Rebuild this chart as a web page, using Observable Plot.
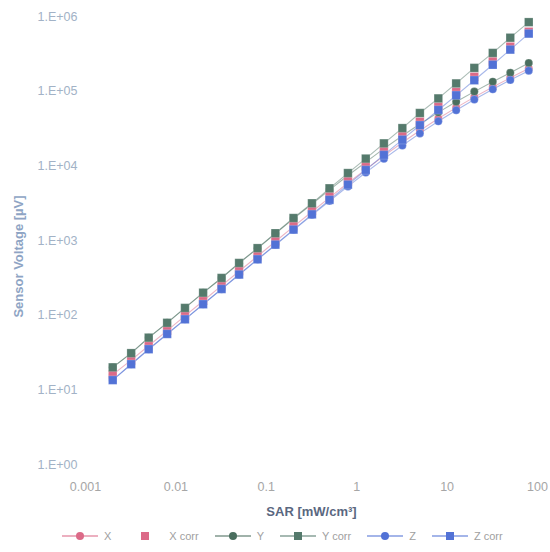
<!DOCTYPE html>
<html>
<head>
<meta charset="utf-8">
<script src="https://cdn.jsdelivr.net/npm/d3@7"></script>
<script src="https://cdn.jsdelivr.net/npm/@observablehq/plot@0.6"></script>
<style>
  html, body { margin: 0; padding: 0; background: #ffffff; }
  body { width: 550px; height: 552px; overflow: hidden; font-family: "Liberation Sans", Arial, sans-serif; }
  #legend { display: flex; align-items: center; justify-content: flex-start; padding-left: 62px; height: 24px; margin-top: 2px;
            font-size: 11px; color: #a0a0a0; }
  .item { display: flex; align-items: center; margin-right: 16px; }
  .item svg { margin-right: 6px; }
</style>
</head>
<body>
<div id="chart"></div>
<div id="legend"></div>
<script>
// SAR values [mW/cm³]
const sar = [0.002, 0.0032, 0.005, 0.008, 0.0126, 0.02, 0.032, 0.05, 0.08, 0.126,
             0.2, 0.32, 0.5, 0.8, 1.26, 2, 3.2, 5, 8, 12.6, 20, 32, 50, 80];
// Sensor voltages [µV]
const xRaw  = [16, 25, 39, 62, 98, 155, 249, 388, 616, 970, 1534, 2430, 3750, 5880,
               8980, 13600, 20500, 29700, 43000, 60200, 83200, 113600, 150800, 200600];
const xCorr = [16, 25, 39, 62, 98, 156, 250, 390, 620, 980, 1560, 2500, 3900, 6200,
               9800, 15600, 25000, 39000, 62000, 98000, 156000, 250000, 395000, 625000];
const yRaw  = [20, 31, 50, 79, 125, 199, 315, 497, 785, 1240, 1960, 3080, 4760, 7430,
               11200, 17000, 25300, 36300, 52000, 72000, 98600, 134000, 176000, 238000];
const yCorr = [20, 31, 50, 79, 125, 200, 315, 500, 790, 1250, 2000, 3150, 5000, 8000,
               12500, 20000, 32000, 51000, 80000, 127000, 205000, 325000, 520000, 840000];
const zRaw  = [13.5, 22, 35, 56, 88, 140, 223, 348, 555, 870, 1378, 2190, 3380, 5300,
               8130, 12400, 18700, 27200, 39500, 55600, 77200, 106000, 141000, 188000];
const zCorr = [13.5, 22, 35, 56, 88, 140, 224, 350, 560, 880, 1400, 2240, 3500, 5600,
               8800, 14000, 22400, 35000, 56000, 88000, 140000, 226000, 360000, 590000];

const xTicks = [0.001, 0.01, 0.1, 1, 10, 100];
const xTickLabels = ["0.001", "0.01", "0.1", "1", "10", "100"];
const yTicks = [1, 10, 100, 1000, 10000, 100000, 1000000];
const yTickLabels = ["1.E+00", "1.E+01", "1.E+02", "1.E+03", "1.E+04", "1.E+05", "1.E+06"];

const seriesNames = ["X", "X corr", "Y", "Y corr", "Z", "Z corr"];
const colX = "#dc6a88", colY = "#4a6e5e", colYc = "#557a6c", colZ = "#5272d6";

const series = [
  {name: "X",      vals: xRaw,  color: colX,  symbol: "circle", line: true},
  {name: "Y",      vals: yRaw,  color: colY,  symbol: "circle", line: true},
  {name: "Z",      vals: zRaw,  color: colZ,  symbol: "circle", line: true},
  {name: "X corr", vals: xCorr, color: colX,  symbol: "square", line: false},
  {name: "Y corr", vals: yCorr, color: colYc, symbol: "square", line: true},
  {name: "Z corr", vals: zCorr, color: colZ,  symbol: "square", line: true}
];
const tbl = s => sar.map((x, i) => ({x, y: s.vals[i]}));

const marks = [];
for (const s of series) {
  if (s.line) marks.push(Plot.line(tbl(s), {x: "x", y: "y", stroke: s.color, strokeWidth: 1.1, strokeOpacity: 0.5}));
}
for (const s of series) {
  marks.push(Plot.dot(tbl(s), {x: "x", y: "y", symbol: s.symbol, r: s.symbol === "square" ? 4.8 : 4,
    fill: s.color, stroke: "#ffffff", strokeWidth: 0.4, strokeOpacity: 0.5}));
}

const plot = Plot.plot({
  width: 550,
  height: 522,
  marginTop: 16,
  marginBottom: 58,
  marginLeft: 85,
  marginRight: 13,
  style: {fontFamily: "'Liberation Sans', Arial, sans-serif", background: "#ffffff"},
  x: {type: "log", domain: [0.001, 100]},
  y: {type: "log", domain: [1, 1000000]},
  marks: [
    Plot.axisX({ticks: xTicks, tickFormat: d => xTickLabels[xTicks.indexOf(d)], tickSize: 0, tickPadding: 18,
      label: null, fontSize: 12.5, fill: "#a6a6a6"}),
    Plot.axisY({ticks: yTicks, tickFormat: d => yTickLabels[yTicks.indexOf(d)], tickSize: 0, tickPadding: 8,
      label: null, fontSize: 12.5, fill: "#a2b2c6"}),
    Plot.text(["SAR [mW/cm³]"], {frameAnchor: "bottom", dy: 51, text: d => d, fontSize: 13, fontWeight: "bold", fill: "#5a6780"}),
    Plot.text(["Sensor Voltage [µV]"], {frameAnchor: "left", textAnchor: "middle", dx: -67, dy: 16, rotate: -90,
      text: d => d, fontSize: 13, fontWeight: "bold", fill: "#8ea4c4"}),
    ...marks
  ]
});
document.getElementById("chart").appendChild(plot);

// Legend
const legend = document.getElementById("legend");
const legendItems = [
  {name: seriesNames[0], color: colX,  symbol: "circle", line: true},
  {name: seriesNames[1], color: colX,  symbol: "square", line: false},
  {name: seriesNames[2], color: colY,  symbol: "circle", line: true},
  {name: seriesNames[3], color: colYc, symbol: "square", line: true},
  {name: seriesNames[4], color: colZ,  symbol: "circle", line: true},
  {name: seriesNames[5], color: colZ,  symbol: "square", line: true}
];
for (const it of legendItems) {
  const div = document.createElement("div");
  div.className = "item";
  const lineEl = it.line ? `<line x1="0" y1="6" x2="36" y2="6" stroke="${it.color}" stroke-opacity="0.7" stroke-width="1.5"/>` : "";
  const mk = it.symbol === "circle"
    ? `<circle cx="18" cy="6" r="4" fill="${it.color}"/>`
    : `<rect x="14" y="2" width="8" height="8" fill="${it.color}"/>`;
  div.innerHTML = `<svg width="36" height="12">${lineEl}${mk}</svg><span>${it.name}</span>`;
  legend.appendChild(div);
}
</script>
</body>
</html>
